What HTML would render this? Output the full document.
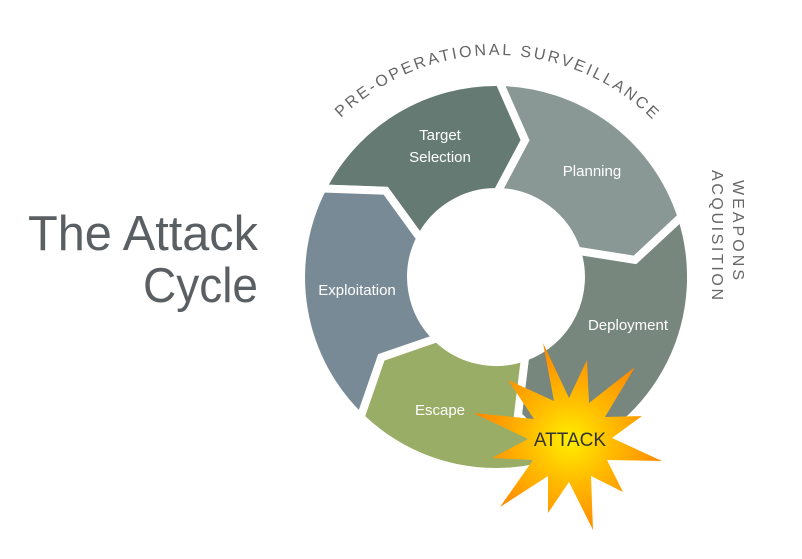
<!DOCTYPE html>
<html><head><meta charset="utf-8"><style>
body{margin:0;background:#fff;}
svg{display:block;font-family:"Liberation Sans",sans-serif;}
</style></head><body>
<svg id="s" width="802" height="559" viewBox="0 0 802 559">
<defs>
<radialGradient id="g" cx="570" cy="440" r="95" gradientUnits="userSpaceOnUse">
<stop offset="0" stop-color="#ffee00"/><stop offset="0.45" stop-color="#ffbb00"/><stop offset="1" stop-color="#ff8800"/>
</radialGradient>
<path id="arc" d="M 339 434 A 222 222 0 1 1 653 434" fill="none"/>
</defs>
<g id="ring"></g>
<polygon fill="url(#g)" points="543,343 569,398 587,360 589,403 635,367 605,417 642,416 612,438 662,461 607,460 623,492 591,476 593,530 569,482 548,513 548,476 500,507 533,460 492,458 528,439 473,413 534,419 508,380 554,401"/>
<g fill="#fff" font-size="15" text-anchor="middle">
<text x="440" y="140">Target</text>
<text x="440" y="162">Selection</text>
<text x="592" y="176">Planning</text>
<text x="357" y="295">Exploitation</text>
<text x="628" y="330">Deployment</text>
<text x="440" y="415">Escape</text>
</g>
<text x="570" y="446" font-size="19" fill="#333" text-anchor="middle">ATTACK</text>
<g fill="#5a5f63" font-size="49">
<text x="28" y="250" textLength="230" lengthAdjust="spacingAndGlyphs">The Attack</text>
<text x="143" y="302" textLength="115" lengthAdjust="spacingAndGlyphs">Cycle</text>
</g>
<text font-size="16" fill="#666"><textPath href="#arc" startOffset="33.6%" textLength="345" lengthAdjust="spacing">PRE-OPERATIONAL SURVEILLANCE</textPath></text>
<g fill="#666" font-size="16">
<text transform="translate(733,180) rotate(90)" textLength="100" lengthAdjust="spacing">WEAPONS</text>
<text transform="translate(712,170) rotate(90)" textLength="130" lengthAdjust="spacing">ACQUISITION</text>
</g>
</svg>
<script>
var cx=496,cy=277,R=195,r=85,Rm=140,d=11;
function p(a,rad){a=a*Math.PI/180;return (cx+rad*Math.cos(a)).toFixed(1)+","+(cy+rad*Math.sin(a)).toFixed(1);}
var segs=[[-153,-89,"#647a72"],[-89,-18,"#8a9895"],[-18,70,"#77877e"],[70,134,"#9aad66"],[134,207,"#788a96"]];
var g=document.getElementById("ring"),h="";
segs.forEach(function(s){var a0=s[0],a1=s[1];
var dp="M"+p(a0,R)+" A"+R+" "+R+" 0 0 1 "+p(a1,R)+" L"+p(a1+d,Rm)+" L"+p(a1,r)+" A"+r+" "+r+" 0 0 0 "+p(a0,r)+" L"+p(a0+d,Rm)+" Z";
h+='<path d="'+dp+'" fill="'+s[2]+'" stroke="#fff" stroke-width="8" stroke-linejoin="miter"/>';});
g.innerHTML=h;
</script>
</body></html>
